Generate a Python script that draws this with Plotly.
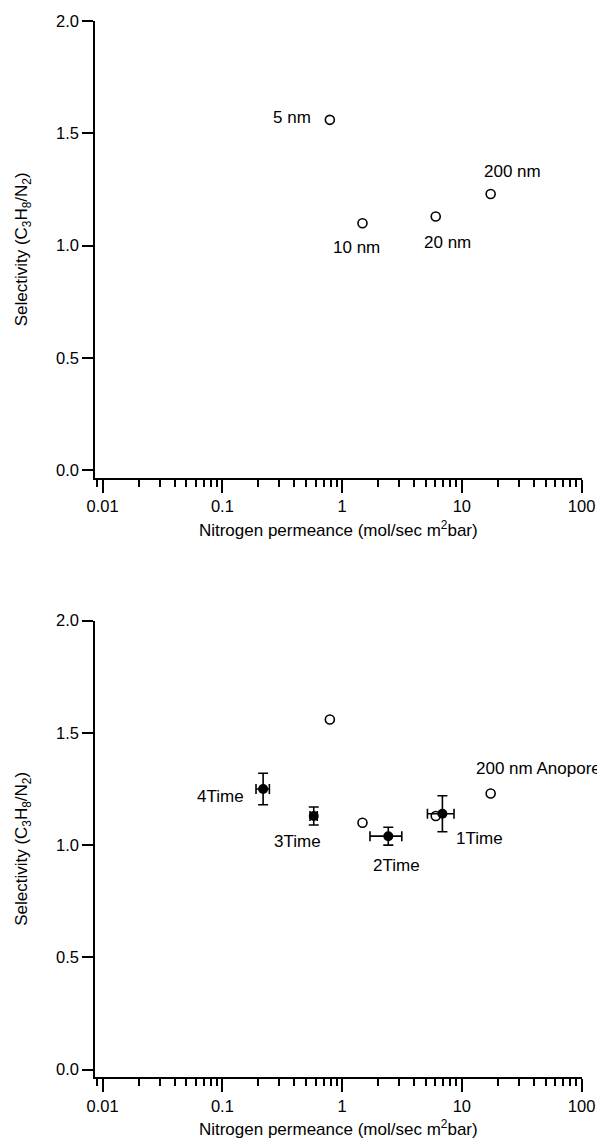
import math
import plotly.graph_objects as go

# ---- data ----
pore_labels = ["5 nm", "10 nm", "20 nm", "200 nm"]
pore_perm = [0.79, 1.48, 6.05, 17.4]
pore_sel = [1.56, 1.10, 1.13, 1.23]

coat_labels = ["1Time", "2Time", "3Time", "4Time"]
coat_perm = [6.88, 2.43, 0.58, 0.219]
coat_perm_err = [1.72, 0.72, 0.04, 0.028]
coat_sel = [1.14, 1.04, 1.13, 1.25]
coat_sel_err = [0.08, 0.04, 0.04, 0.07]

x_tickvals = [0.01, 0.1, 1, 10, 100]
x_ticktext = ["0.01", "0.1", "1", "10", "100"]
y_tickvals = [0.0, 0.5, 1.0, 1.5, 2.0]

FONT = "Liberation Sans, Arial, sans-serif"
OFF = 8  # page body margin
W, H = 605 - OFF, 1142 - OFF

fig = go.Figure()

open_marker = dict(symbol="circle-open", size=9, color="black", line=dict(width=1.6, color="black"))

fig.add_trace(go.Scatter(x=pore_perm, y=pore_sel, mode="markers", marker=open_marker,
                         xaxis="x", yaxis="y", showlegend=False, cliponaxis=False))
fig.add_trace(go.Scatter(x=pore_perm, y=pore_sel, mode="markers", marker=open_marker,
                         xaxis="x2", yaxis="y2", showlegend=False, cliponaxis=False))
fig.add_trace(go.Scatter(x=coat_perm, y=coat_sel, mode="markers",
                         marker=dict(symbol="circle", size=10, color="black"),
                         error_x=dict(type="data", array=coat_perm_err, color="black", thickness=1.6, width=5),
                         error_y=dict(type="data", array=coat_sel_err, color="black", thickness=1.6, width=5),
                         xaxis="x2", yaxis="y2", showlegend=False, cliponaxis=False))

def px_x(p):
    return (p - OFF) / W

def px_y(p):
    return (H - (p - OFF)) / H

x_dom = [px_x(95), px_x(581.6)]
top_dom = [px_y(477.7), px_y(21)]
bot_dom = [px_y(1077), px_y(620.7)]

xtitle = "Nitrogen permeance (mol/sec m<sup>2</sup>bar)"
ytitle = "Selectivity (C<sub>3</sub>H<sub>8</sub>/N<sub>2</sub>)"
TICKSZ = 16.5
TXTSZ = 17

def xaxis_cfg(anchor):
    return dict(
        type="log", range=[-2.0635, 2.0], domain=x_dom, anchor=anchor,
        tickvals=x_tickvals, ticktext=x_ticktext,
        ticks="outside", ticklen=13, tickwidth=1.5, tickcolor="black",
        minor=dict(ticks="outside", ticklen=7, tickwidth=1.5, tickcolor="black", dtick="D1"),
        showline=True, linecolor="black", linewidth=1.6,
        showgrid=False, zeroline=False, automargin=False,
        tickfont=dict(family=FONT, size=TICKSZ, color="black"),
        title=dict(text=xtitle, font=dict(family=FONT, size=TXTSZ, color="black"), standoff=10),
    )

def yaxis_cfg(anchor, dom):
    return dict(
        range=[-0.033, 2.0], domain=dom, anchor=anchor,
        tickvals=y_tickvals, tickformat=".1f",
        ticks="outside", ticklen=11, tickwidth=1.5, tickcolor="black",
        showline=True, linecolor="black", linewidth=1.6,
        showgrid=False, zeroline=False, automargin=False,
        tickfont=dict(family=FONT, size=TICKSZ, color="black"),
        title=dict(text=ytitle, font=dict(family=FONT, size=TXTSZ, color="black"), standoff=24),
    )

annots = []
afont = dict(family=FONT, size=TXTSZ, color="black")
top_off = {"5 nm": ("right", -17, 2), "10 nm": ("center", -6, -24),
           "20 nm": ("center", 12, -26), "200 nm": ("center", 22, 22)}
for lab, xv, yv in zip(pore_labels, pore_perm, pore_sel):
    anc, dx, dy = top_off[lab]
    annots.append(dict(x=math.log10(xv), y=yv, xref="x", yref="y", text=lab, showarrow=False,
                       xanchor=anc, yanchor="middle", xshift=dx, yshift=dy, font=afont))
annots.append(dict(x=math.log10(pore_perm[3]), y=pore_sel[3], xref="x2", yref="y2",
                   text=pore_labels[3] + " Anopore", showarrow=False,
                   xanchor="center", yanchor="middle", xshift=48, yshift=25, font=afont))
bot_off = {"1Time": ("left", 12, -25), "2Time": ("center", 8, -29),
           "3Time": ("center", -16, -26), "4Time": ("right", -17, -7)}
for lab, xv, yv in zip(coat_labels, coat_perm, coat_sel):
    anc, dx, dy = bot_off[lab]
    annots.append(dict(x=math.log10(xv), y=yv, xref="x2", yref="y2", text=lab, showarrow=False,
                       xanchor=anc, yanchor="middle", xshift=dx, yshift=dy, font=afont))

fig.update_layout(
    template="none",
    width=W, height=H,
    margin=dict(l=0, r=0, t=0, b=0),
    paper_bgcolor="white", plot_bgcolor="white",
    xaxis=xaxis_cfg("y"), yaxis=yaxis_cfg("x", top_dom),
    xaxis2=xaxis_cfg("y2"), yaxis2=yaxis_cfg("x2", bot_dom),
    annotations=annots,
    font=dict(family=FONT, size=TXTSZ, color="black"),
)

fig.write_html("out.html")
